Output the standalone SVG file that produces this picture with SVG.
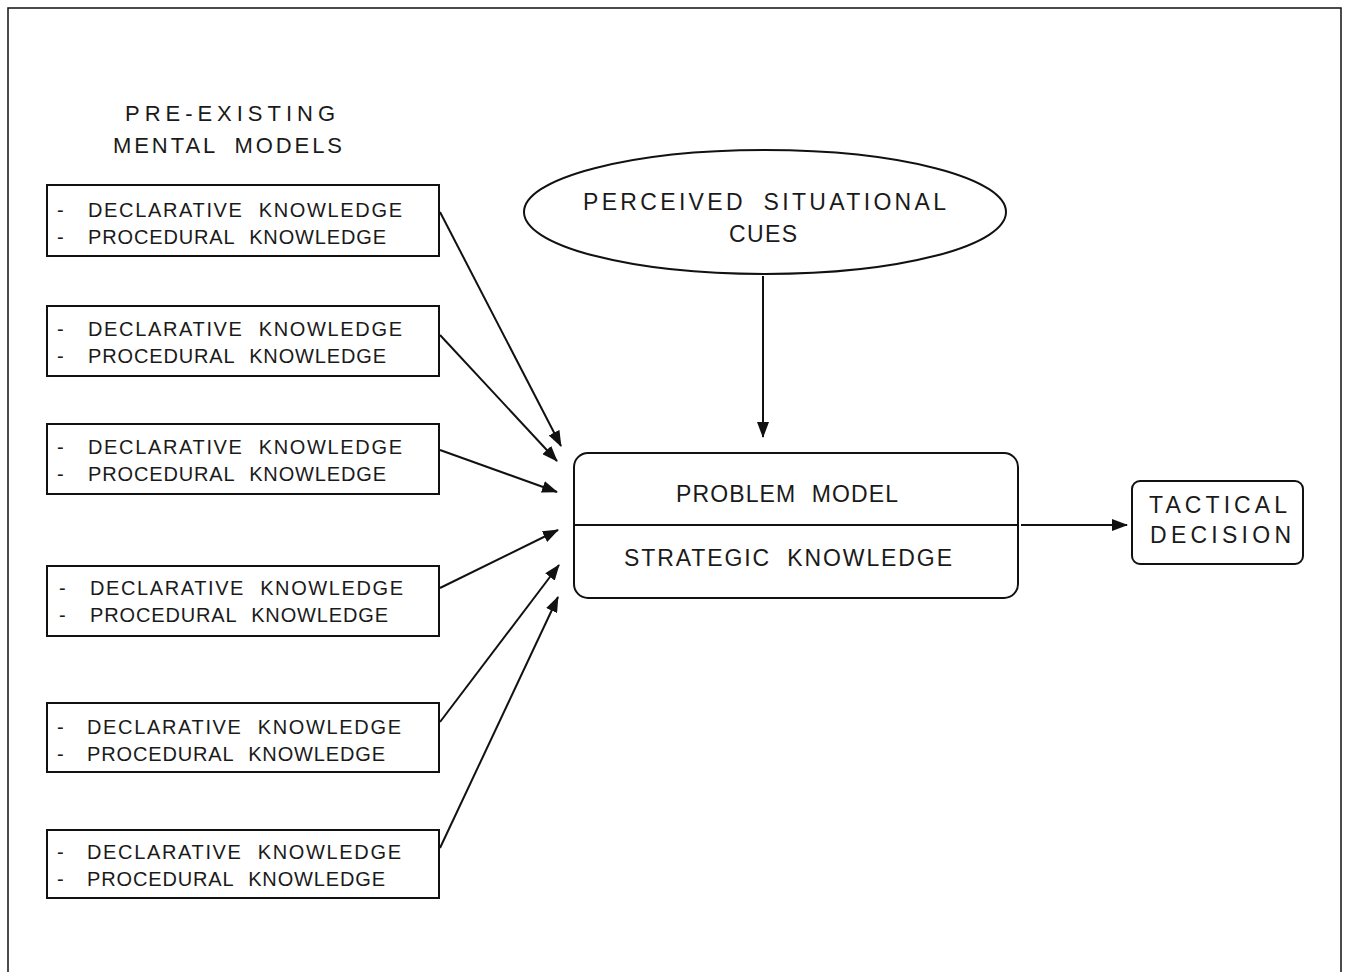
<svg xmlns="http://www.w3.org/2000/svg" width="1347" height="972" viewBox="0 0 1347 972">
<style>
  .t { font-family: "Liberation Sans", Arial, sans-serif; font-size: 20px; fill: #1a1a1a; word-spacing: 8px; }
  .big { font-size: 23px; }
  .hd { font-size: 22px; }
  .box { fill: #fff; stroke: #111; stroke-width: 2; }
  .edge { stroke: #111; stroke-width: 2; fill: none; marker-end: url(#ah); }
</style>
<defs>
  <marker id="ah" markerWidth="16" markerHeight="12" refX="15" refY="6" orient="auto" markerUnits="userSpaceOnUse">
    <path d="M0,0 L16,6 L0,12 z" fill="#111"/>
  </marker>
</defs>
<rect width="1347" height="972" fill="#fff"/>
<g id="frame" stroke="#111" stroke-width="1.5" fill="none">
  <polyline points="8,972 8,8 1341,8 1341,972"/>
</g>
<g id="header">
  <text class="t hd" x="125" y="121" textLength="210" lengthAdjust="spacing">PRE-EXISTING</text>
  <text class="t hd" x="113" y="153" textLength="229" lengthAdjust="spacing">MENTAL MODELS</text>
</g>
<g id="mm1">
  <rect class="box" x="47" y="185" width="392" height="71"/>
  <text class="t" x="57" y="217">-</text>
  <text class="t" x="88" y="217" textLength="314" lengthAdjust="spacing">DECLARATIVE KNOWLEDGE</text>
  <text class="t" x="57" y="244">-</text>
  <text class="t" x="88" y="244" textLength="298" lengthAdjust="spacing">PROCEDURAL KNOWLEDGE</text>
</g>
<g id="mm2">
  <rect class="box" x="47" y="306" width="392" height="70"/>
  <text class="t" x="57" y="336">-</text>
  <text class="t" x="88" y="336" textLength="314" lengthAdjust="spacing">DECLARATIVE KNOWLEDGE</text>
  <text class="t" x="57" y="363">-</text>
  <text class="t" x="88" y="363" textLength="298" lengthAdjust="spacing">PROCEDURAL KNOWLEDGE</text>
</g>
<g id="mm3">
  <rect class="box" x="47" y="424" width="392" height="70"/>
  <text class="t" x="57" y="454">-</text>
  <text class="t" x="88" y="454" textLength="314" lengthAdjust="spacing">DECLARATIVE KNOWLEDGE</text>
  <text class="t" x="57" y="481">-</text>
  <text class="t" x="88" y="481" textLength="298" lengthAdjust="spacing">PROCEDURAL KNOWLEDGE</text>
</g>
<g id="mm4">
  <rect class="box" x="47" y="566" width="392" height="70"/>
  <text class="t" x="59" y="595">-</text>
  <text class="t" x="90" y="595" textLength="313" lengthAdjust="spacing">DECLARATIVE KNOWLEDGE</text>
  <text class="t" x="59" y="622">-</text>
  <text class="t" x="90" y="622" textLength="298" lengthAdjust="spacing">PROCEDURAL KNOWLEDGE</text>
</g>
<g id="mm5">
  <rect class="box" x="47" y="703" width="392" height="69"/>
  <text class="t" x="57" y="734">-</text>
  <text class="t" x="87" y="734" textLength="314" lengthAdjust="spacing">DECLARATIVE KNOWLEDGE</text>
  <text class="t" x="57" y="761">-</text>
  <text class="t" x="87" y="761" textLength="298" lengthAdjust="spacing">PROCEDURAL KNOWLEDGE</text>
</g>
<g id="mm6">
  <rect class="box" x="47" y="830" width="392" height="68"/>
  <text class="t" x="57" y="859">-</text>
  <text class="t" x="87" y="859" textLength="314" lengthAdjust="spacing">DECLARATIVE KNOWLEDGE</text>
  <text class="t" x="57" y="886">-</text>
  <text class="t" x="87" y="886" textLength="298" lengthAdjust="spacing">PROCEDURAL KNOWLEDGE</text>
</g>
<g id="cues">
  <ellipse class="box" cx="765" cy="212" rx="241" ry="62" stroke-width="2.4"/>
  <text class="t big" x="583" y="210" textLength="363" lengthAdjust="spacing">PERCEIVED SITUATIONAL</text>
  <text class="t big" x="729" y="242" textLength="68" lengthAdjust="spacing">CUES</text>
</g>
<g id="problem">
  <rect class="box" x="574" y="453" width="444" height="145" rx="14" stroke-width="2.4"/>
  <line x1="574" y1="525" x2="1018" y2="525" stroke="#111" stroke-width="2"/>
  <text class="t big" x="676" y="502" textLength="222" lengthAdjust="spacing">PROBLEM MODEL</text>
  <text class="t big" x="624" y="566" textLength="328" lengthAdjust="spacing">STRATEGIC KNOWLEDGE</text>
</g>
<g id="tactical">
  <rect class="box" x="1132" y="481" width="171" height="83" rx="8" stroke-width="2.4"/>
  <text class="t big" x="1149" y="513" textLength="138" lengthAdjust="spacing">TACTICAL</text>
  <text class="t big" x="1150" y="543" textLength="141" lengthAdjust="spacing">DECISION</text>
</g>
<g id="connectors">
  <line class="edge" x1="440" y1="212" x2="561" y2="446"/>
  <line class="edge" x1="440" y1="335" x2="557" y2="461"/>
  <line class="edge" x1="440" y1="450" x2="557" y2="492"/>
  <line class="edge" x1="440" y1="588" x2="558" y2="530"/>
  <line class="edge" x1="440" y1="722" x2="559" y2="565"/>
  <line class="edge" x1="440" y1="848" x2="558" y2="597"/>
  <line class="edge" x1="763" y1="276" x2="763" y2="437" stroke-width="2.5"/>
  <line class="edge" x1="1021" y1="525" x2="1127" y2="525"/>
</g>
</svg>
